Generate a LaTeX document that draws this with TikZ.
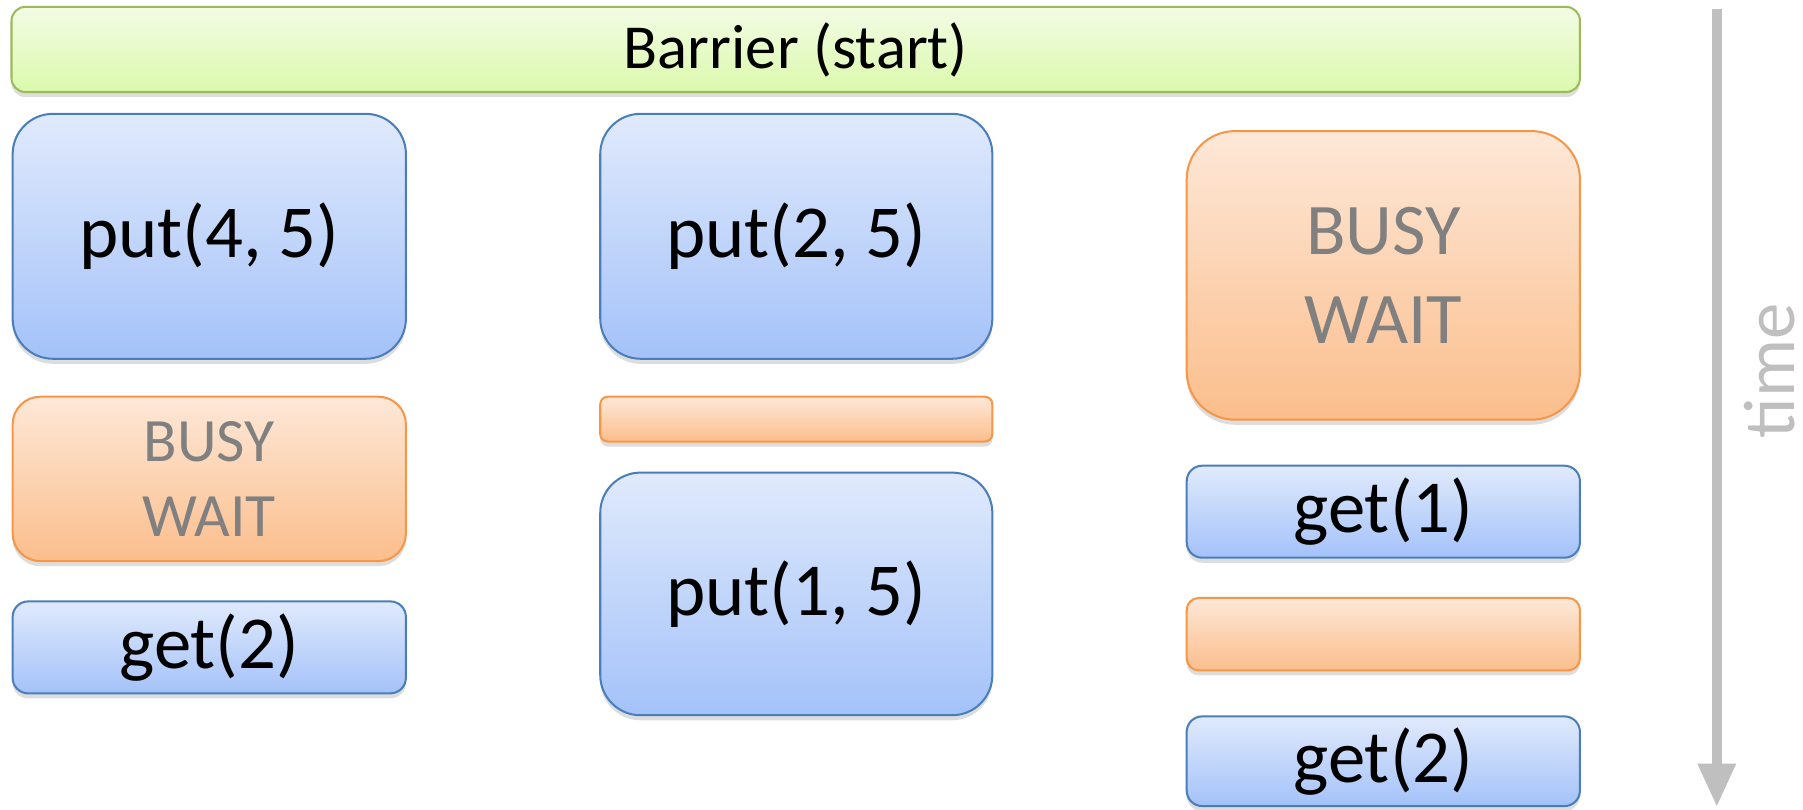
\documentclass[tikz,border=0pt]{standalone}
\usepackage{fontspec}
\setmainfont{Carlito}
\usetikzlibrary{arrows.meta,shadows}

\definecolor{blueedge}{RGB}{74,126,187}
\definecolor{bluetop}{RGB}{224,234,252}
\definecolor{bluebot}{RGB}{164,194,249}
\definecolor{orangeedge}{RGB}{247,150,70}
\definecolor{orangetop}{RGB}{253,232,216}
\definecolor{orangebot}{RGB}{251,190,140}
\definecolor{greenedge}{RGB}{155,187,89}
\definecolor{greentop}{RGB}{243,251,229}
\definecolor{greenbot}{RGB}{219,250,172}
\definecolor{waittext}{RGB}{128,128,128}
\definecolor{axisgray}{RGB}{191,191,191}

\tikzset{
  blk/.style={rectangle, line width=1pt, inner sep=0pt, align=center,
    drop shadow={shadow xshift=0pt, shadow yshift=-2.5pt, opacity=0.22, fill=black!60}},
  opbox/.style={blk, draw=blueedge, top color=bluetop, bottom color=bluebot,
    font=\fontsize{37}{44}\selectfont},
  waitbox/.style={blk, draw=orangeedge, top color=orangetop, bottom color=orangebot,
    text=waittext},
  barrierbox/.style={blk, draw=greenedge, top color=greentop, bottom color=greenbot,
    font=\fontsize{31}{37}\selectfont},
  timeaxis/.style={draw=axisgray, line width=0.18cm,
    -{Triangle[width=0.62cm,length=0.76cm]}},
}

\begin{document}
\begin{tikzpicture}
  \useasboundingbox (0,0) rectangle (31.36,-14.08);

  % barrier across all threads
  \node[barrierbox, minimum width=27.28cm, minimum height=1.48cm, rounded corners=0.24cm]
    (barrier) at (13.84,-0.86) {Barrier (start)};

  % first thread
  \node[opbox, minimum width=6.84cm, minimum height=4.26cm, rounded corners=0.7cm]
    (put45) at (3.64,-4.11) {put(4, 5)};
  \node[waitbox, minimum width=6.84cm, minimum height=2.86cm, rounded corners=0.48cm,
    font=\fontsize{30.5}{37}\selectfont]
    (wait1) at (3.64,-8.33) {BUSY\\WAIT};
  \node[opbox, minimum width=6.84cm, minimum height=1.6cm, rounded corners=0.27cm]
    (get2a) at (3.64,-11.26) {get(2)};

  % second thread
  \node[opbox, minimum width=6.82cm, minimum height=4.26cm, rounded corners=0.7cm]
    (put25) at (13.85,-4.11) {put(2, 5)};
  \node[waitbox, minimum width=6.82cm, minimum height=0.78cm, rounded corners=0.13cm]
    (wait2) at (13.85,-7.29) {};
  \node[opbox, minimum width=6.82cm, minimum height=4.22cm, rounded corners=0.7cm]
    (put15) at (13.85,-10.33) {put(1, 5)};

  % third thread
  \node[waitbox, minimum width=6.84cm, minimum height=5.02cm, rounded corners=0.84cm,
    font=\fontsize{36}{44}\selectfont]
    (wait3) at (24.06,-4.79) {BUSY\\WAIT};
  \node[opbox, minimum width=6.84cm, minimum height=1.6cm, rounded corners=0.27cm]
    (get1) at (24.06,-8.9) {get(1)};
  \node[waitbox, minimum width=6.84cm, minimum height=1.26cm, rounded corners=0.21cm]
    (wait4) at (24.06,-11.03) {};
  \node[opbox, minimum width=6.84cm, minimum height=1.56cm, rounded corners=0.27cm]
    (get2b) at (24.06,-13.24) {get(2)};

  % time axis
  \coordinate (tstart) at (29.86,-0.16);
  \coordinate (tend) at (29.86,-14.04);
  \draw[timeaxis] (tstart) -- (tend);
  \node[rotate=90, anchor=base, inner sep=0pt, text=axisgray,
    font=\fontsize{36}{43}\selectfont]
    (timelabel) at (31.22,-6.45) {time};
\end{tikzpicture}
\end{document}
